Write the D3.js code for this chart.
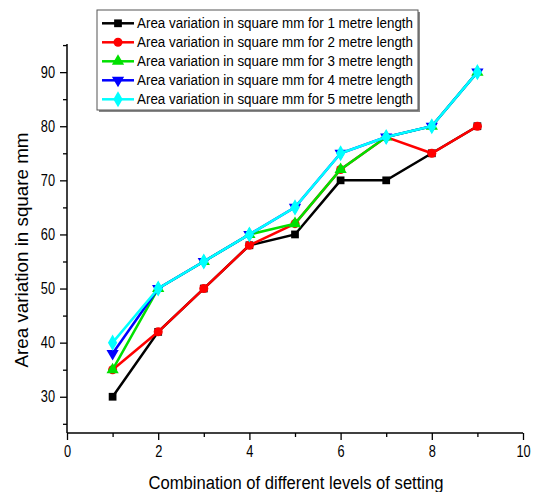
<!DOCTYPE html>
<html>
<head>
	<meta charset="utf-8"/>
	<title>Area variation</title>
	<script src="https://cdn.jsdelivr.net/npm/d3@7"></script>
	<style>
		body { margin: 0; background: #fff; }
		text { font-family: "Liberation Sans", Arial, sans-serif; fill: #000; }
	</style>
</head>
<body>
<div id="chart"></div>
<script>
	// data
	var xs = [1, 2, 3, 4, 5, 6, 7, 8, 9];
	var len1 = [30, 42, 50, 58, 60, 70, 70, 75, 80];
	var len2 = [35, 42, 50, 58, 62, 72, 78, 75, 80];
	var len3 = [35, 50, 55, 60, 62, 72, 78, 80, 90];
	var len4 = [38, 50, 55, 60, 65, 75, 78, 80, 90];
	var len5 = [40, 50, 55, 60, 65, 75, 78, 80, 90];
	var seriesNames = [
		"Area variation in square mm for 1 metre length",
		"Area variation in square mm for 2 metre length",
		"Area variation in square mm for 3 metre length",
		"Area variation in square mm for 4 metre length",
		"Area variation in square mm for 5 metre length"
	];
	var xTicks = [0, 2, 4, 6, 8, 10];
	var yTicks = [30, 40, 50, 60, 70, 80, 90];

	var allSeries = [len1, len2, len3, len4, len5];
	var colors = ["#000000", "#ff0000", "#00e000", "#0000ff", "#00ffff"];
	var shapes = [d3.symbolSquare, d3.symbolCircle, d3.symbolTriangle, "down", d3.symbolDiamond];

	var W = 534, H = 492;
	// plot edges ("top" is window.top, so pl/pr/pt/pb)
	var pl = 67, pr = 523, pt = 44, pb = 433;

	var svg = d3.select("#chart").append("svg")
		.attr("width", W)
		.attr("height", H);

	var x = d3.scaleLinear().domain([0, 10]).range([pl, pr]);
	var y = d3.scaleLinear().domain([23.3, 95.2]).range([pb, pt]);

	// squeeze a text horizontally, the original font is narrower than Arial
	function squeeze(sel, f) {
		sel.each(function() {
			var w = this.getComputedTextLength();
			d3.select(this).attr("textLength", w * f).attr("lengthAdjust", "spacingAndGlyphs");
		});
	}

	// axes: major ticks with labels, then minor ticks
	var xAxis = d3.axisBottom(x).tickValues(xTicks).tickSize(7).tickPadding(6).tickFormat(d3.format("d"));
	var yAxis = d3.axisLeft(y).tickValues(yTicks).tickSize(7).tickPadding(5).tickFormat(d3.format("d"));

	var gx = svg.append("g").attr("transform", "translate(0," + pb + ")").call(xAxis);
	var gy = svg.append("g").attr("transform", "translate(" + pl + ",0)").call(yAxis);

	svg.append("g").attr("transform", "translate(0," + pb + ")")
		.call(d3.axisBottom(x).tickValues([1, 3, 5, 7, 9]).tickSize(4).tickFormat(""))
		.select(".domain").remove();
	svg.append("g").attr("transform", "translate(" + pl + ",0)")
		.call(d3.axisLeft(y).tickValues([25, 35, 45, 55, 65, 75, 85, 95]).tickSize(4).tickFormat(""))
		.select(".domain").remove();

	gx.select(".domain").attr("d", "M" + pl + ",0H" + pr);
	gy.select(".domain").attr("d", "M0," + pb + "V" + pt);
	svg.selectAll(".domain").attr("stroke", "#000").attr("stroke-width", 1.5);
	svg.selectAll(".tick line").attr("stroke", "#000").attr("stroke-width", 1.3);
	var tickText = svg.selectAll(".tick text")
		.style("font-size", "16px")
		.style("font-family", "Liberation Sans, Arial, sans-serif");
	squeeze(tickText, 0.8);

	// axis titles
	svg.append("text")
		.attr("x", 296)
		.attr("y", 489)
		.attr("text-anchor", "middle")
		.attr("textLength", 295)
		.attr("lengthAdjust", "spacingAndGlyphs")
		.style("font-size", "18px")
		.text("Combination of different levels of setting");

	svg.append("text")
		.attr("transform", "translate(28,250) rotate(-90)")
		.attr("text-anchor", "middle")
		.attr("textLength", 235)
		.attr("lengthAdjust", "spacingAndGlyphs")
		.style("font-size", "18px")
		.text("Area variation in square mm");

	function marker(i) {
		if (shapes[i] === "down") {
			return d3.symbol().type(d3.symbolTriangle).size(65)();
		}
		var size = [60, 64, 65, 65, 75][i];
		return d3.symbol().type(shapes[i]).size(size)();
	}

	var line = d3.line()
		.x(function(d, i) { return x(xs[i]); })
		.y(function(d) { return y(d); });

	allSeries.forEach(function(vals, i) {
		var g = svg.append("g");
		g.append("path")
			.attr("d", line(vals))
			.attr("fill", "none")
			.attr("stroke", colors[i])
			.attr("stroke-width", 2.5);
		g.selectAll("path.m").data(vals).enter().append("path")
			.attr("class", "m")
			.attr("d", marker(i))
			.attr("fill", colors[i])
			.attr("transform", function(d, j) {
				var t = "translate(" + x(xs[j]) + "," + y(d) + ")";
				return shapes[i] === "down" ? t + " rotate(180)" : t;
			});
	});

	// legend
	var lg = svg.append("g");
	lg.append("rect")
		.attr("x", 99).attr("y", 12)
		.attr("width", 321).attr("height", 100)
		.attr("fill", "#888");
	lg.append("rect")
		.attr("x", 97).attr("y", 10)
		.attr("width", 321).attr("height", 100)
		.attr("fill", "#fff")
		.attr("stroke", "#555")
		.attr("stroke-width", 1);

	seriesNames.forEach(function(name, i) {
		var cy = 23.3 + i * 19;
		lg.append("line")
			.attr("x1", 102).attr("x2", 134)
			.attr("y1", cy).attr("y2", cy)
			.attr("stroke", colors[i])
			.attr("stroke-width", 2.5);
		lg.append("path")
			.attr("d", marker(i))
			.attr("fill", colors[i])
			.attr("transform", "translate(118," + cy + ")" + (shapes[i] === "down" ? " rotate(180)" : ""));
		lg.append("text")
			.attr("x", 137).attr("y", cy + 5)
			.attr("textLength", 276)
			.attr("lengthAdjust", "spacingAndGlyphs")
			.style("font-size", "14px")
			.text(name);
	});
</script>
</body>
</html>
